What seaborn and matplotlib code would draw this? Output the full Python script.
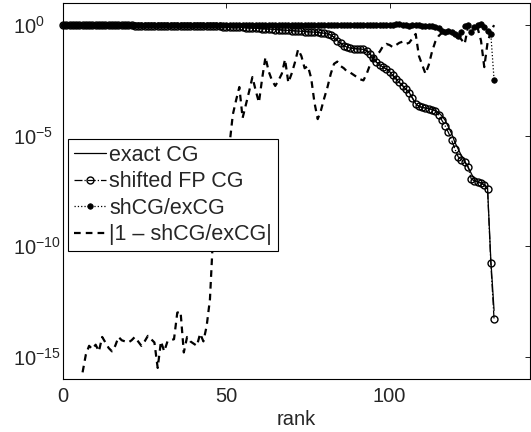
import numpy as np
import pandas as pd
import matplotlib
matplotlib.use('Agg')
import matplotlib.pyplot as plt
from matplotlib.ticker import NullLocator, FixedLocator
import seaborn as sns

# rank axis
rank = np.arange(133)

# log10 of the residual of exact CG
exact_cg_log = [
    0.00, 0.00, 0.00, 0.00, 0.00, 0.00, 0.00, 0.00, 0.00, 0.00,
    0.00, 0.00, -0.01, -0.01, -0.01, -0.01, -0.01, -0.01, -0.01, -0.01,
    -0.01, -0.01, -0.02, -0.02, -0.02, -0.02, -0.02, -0.02, -0.02, -0.02,
    -0.02, -0.03, -0.03, -0.03, -0.03, -0.03, -0.03, -0.04, -0.04, -0.04,
    -0.04, -0.04, -0.05, -0.05, -0.05, -0.05, -0.06, -0.06, -0.06, -0.07,
    -0.07, -0.08, -0.08, -0.09, -0.09, -0.10, -0.11, -0.12, -0.13, -0.14,
    -0.15, -0.16, -0.17, -0.18, -0.19, -0.20, -0.21, -0.22, -0.23, -0.24,
    -0.25, -0.26, -0.27, -0.28, -0.29, -0.30, -0.31, -0.32, -0.33, -0.35,
    -0.37, -0.40, -0.45, -0.55, -0.70, -0.82, -0.93, -1.00, -1.04, -1.06,
    -1.07, -1.08, -1.10, -1.15, -1.30, -1.50, -1.68, -1.80, -1.90, -1.98,
    -2.10, -2.28, -2.45, -2.60, -2.74, -2.90, -3.04, -3.30, -3.55, -3.68,
    -3.72, -3.75, -3.78, -3.80, -3.85, -3.95, -4.10, -4.30, -4.60, -4.90,
    -5.30, -5.60, -5.90, -6.15, -6.40, -6.70, -7.00, -7.10, -7.15, -7.20,
    -7.35, -10.60, -12.90,
]

# log10 of shifted floating point CG
shifted_cg_log = [
    0.00, 0.00, 0.00, 0.00, 0.00, 0.00, 0.00, 0.00, 0.00, 0.00,
    0.00, 0.00, -0.01, -0.01, -0.01, -0.01, -0.01, -0.01, -0.01, -0.01,
    -0.01, -0.01, -0.02, -0.02, -0.02, -0.02, -0.02, -0.02, -0.02, -0.02,
    -0.02, -0.03, -0.03, -0.03, -0.03, -0.03, -0.03, -0.04, -0.04, -0.04,
    -0.04, -0.04, -0.05, -0.05, -0.05, -0.05, -0.06, -0.06, -0.06, -0.07,
    -0.07, -0.08, -0.08, -0.09, -0.09, -0.10, -0.11, -0.12, -0.13, -0.14,
    -0.15, -0.16, -0.17, -0.18, -0.19, -0.20, -0.21, -0.22, -0.23, -0.24,
    -0.25, -0.26, -0.27, -0.28, -0.29, -0.30, -0.31, -0.32, -0.33, -0.35,
    -0.37, -0.40, -0.45, -0.55, -0.70, -0.82, -0.93, -1.00, -1.04, -1.06,
    -1.07, -1.08, -1.10, -1.15, -1.30, -1.50, -1.68, -1.80, -1.90, -1.98,
    -2.10, -2.27, -2.42, -2.58, -2.74, -2.90, -3.05, -3.30, -3.55, -3.68,
    -3.72, -3.75, -3.78, -3.82, -3.88, -4.05, -4.30, -4.55, -4.85, -5.20,
    -5.60, -5.95, -6.10, -6.20, -6.40, -6.95, -7.05, -7.10, -7.12, -7.25,
    -7.40, -10.75, -13.30,
]

# log10 of the ratio shCG/exCG
ratio_log = [
    0.00, 0.00, 0.00, 0.00, 0.00, 0.00, 0.00, 0.00, 0.00, 0.00,
    0.00, 0.00, 0.00, 0.00, 0.00, 0.00, 0.00, 0.00, 0.00, 0.00,
    0.00, 0.00, 0.00, 0.00, 0.00, 0.00, 0.00, 0.00, 0.00, 0.00,
    0.00, 0.00, 0.00, 0.00, 0.00, 0.00, 0.00, 0.00, 0.00, 0.00,
    0.00, 0.00, 0.00, 0.00, 0.00, 0.00, 0.00, 0.00, 0.00, 0.00,
    0.00, 0.00, 0.00, 0.00, 0.00, 0.00, 0.00, 0.00, 0.00, 0.00,
    0.00, 0.00, 0.00, 0.00, 0.00, 0.00, 0.00, 0.00, 0.00, 0.00,
    0.00, 0.00, 0.00, 0.00, 0.00, 0.00, 0.00, 0.00, 0.00, 0.00,
    0.00, 0.00, 0.00, 0.00, 0.00, 0.00, 0.00, 0.00, 0.00, 0.00,
    0.00, 0.00, 0.00, 0.00, 0.00, 0.00, 0.00, 0.00, 0.00, 0.00,
    0.00, 0.01, 0.03, 0.06, 0.01, 0.00, -0.02, 0.00, 0.00, -0.01,
    -0.02, -0.03, -0.03, -0.05, -0.08, -0.15, -0.25, -0.33, -0.28, -0.33,
    -0.40, -0.48, -0.30, -0.05, 0.02, -0.33, -0.10, 0.00, 0.05, -0.10,
    -0.25, -0.40, -2.47,
]

# log10 of |1 - shCG/exCG| (zero for the first ranks)
diff_log = [
    np.nan, np.nan, np.nan, np.nan, np.nan, np.nan, -15.70, -14.90, -14.50, -14.65,
    -14.45, -14.75, -14.10, -14.35, -14.60, -14.75, -14.50, -14.10, -14.25, -14.30,
    -14.35, -14.25, -14.10, -14.30, -14.50, -14.30, -14.05, -14.20, -14.35, -15.50,
    -14.30, -14.75, -14.30, -14.25, -14.20, -13.00, -12.95, -14.80, -14.10, -14.30,
    -14.40, -14.50, -13.95, -14.30, -13.60, -12.40, -9.40, -8.20, -7.30, -6.50,
    -5.90, -5.40, -4.05, -3.40, -2.80, -4.20, -3.60, -3.00, -2.35, -2.95,
    -3.50, -2.40, -1.45, -2.10, -2.50, -2.75, -2.50, -2.20, -1.55, -2.60,
    -2.20, -1.70, -1.10, -1.40, -1.95, -1.85, -2.40, -3.50, -4.25, -3.85,
    -3.30, -2.80, -2.20, -1.75, -1.65, -1.85, -1.95, -2.10, -2.15, -2.25,
    -2.35, -2.45, -2.50, -2.20, -1.80, -1.50, -1.35, -1.20, -0.95, -0.85,
    -0.90, -1.00, -0.90, -0.80, -0.75, -0.85, -0.80, -0.60, -0.40, -1.40,
    -1.80, -2.20, -1.80, -1.20, -0.75, -0.50, -0.35, -0.25, -0.30, -0.35,
    -0.40, -0.50, -0.65, -0.85, -0.10, -0.05, -0.10, -0.15, -0.70, -1.90,
    -0.80, -0.30, 0.00,
]

labels = ['exact CG', 'shifted FP CG', 'shCG/exCG', '|1 \u2013 shCG/exCG|']

sns.set_style('white')
plt.rcParams['font.family'] = ['Liberation Sans', 'DejaVu Sans']
plt.rcParams['mathtext.fontset'] = 'custom'
plt.rcParams['mathtext.rm'] = 'Liberation Sans'
plt.rcParams['mathtext.it'] = 'Liberation Sans:italic'
plt.rcParams['mathtext.bf'] = 'Liberation Sans:bold'

df = pd.DataFrame({
    'rank': rank,
    'exact': 10.0 ** np.array(exact_cg_log),
    'shifted': 10.0 ** np.array(shifted_cg_log),
    'ratio': 10.0 ** np.array(ratio_log),
    'diff': 10.0 ** np.array(diff_log),
})

fig = plt.figure(figsize=(5.31, 4.32), dpi=100)
ax = fig.add_axes([0.1186, 0.1227, 0.8795, 0.8704])
ax.set_yscale('log')

common = dict(ax=ax, estimator=None, errorbar=None, sort=False, color='black', clip_on=False)
sns.lineplot(data=df, x='rank', y='exact', linestyle='-', linewidth=0.9,
             label=labels[0], **common)
sns.lineplot(data=df, x='rank', y='shifted', linestyle='-.', linewidth=0.9,
             marker='o', markersize=5, markerfacecolor='none',
             markeredgecolor='black', markeredgewidth=1.0,
             label=labels[1], **common)
sns.lineplot(data=df, x='rank', y='ratio', linestyle=':', linewidth=0.9,
             marker='o', markersize=4, markerfacecolor='black',
             markeredgecolor='black', markeredgewidth=0.5,
             label=labels[2], **common)
sns.lineplot(data=df, x='rank', y='diff', linestyle=(0, (3, 2.3)), linewidth=1.6,
             label=labels[3], **common)

ax.set_xlim(0, 143)
ax.set_ylim(1e-16, 1e1)
ax.xaxis.set_major_locator(FixedLocator([0, 50, 100]))
ax.yaxis.set_major_locator(FixedLocator([1e-15, 1e-10, 1e-5, 1e0]))
ax.yaxis.set_minor_locator(NullLocator())
ax.xaxis.set_minor_locator(NullLocator())

ax.tick_params(which='both', direction='in', top=True, right=True,
               length=3.5, width=0.6, color='black', labelsize=14.5)
ax.tick_params(axis='y', pad=36)
ax.tick_params(axis='x', pad=6)
for lab in ax.get_yticklabels():
    lab.set_horizontalalignment('left')

for s in ax.spines.values():
    s.set_color('black')
    s.set_linewidth(0.8)

ax.set_xlabel('rank', fontsize=14.5, labelpad=3)
ax.set_ylabel('')

leg = ax.legend(loc='upper left', bbox_to_anchor=(0.0107, 0.638), borderaxespad=0,
                fontsize=15.5, handlelength=1.5, handletextpad=0.14,
                labelspacing=0.25, borderpad=0.27, fancybox=False, framealpha=1,
                edgecolor='black')
leg.get_frame().set_linewidth(0.8)

fig.savefig('out.png', dpi=100)
